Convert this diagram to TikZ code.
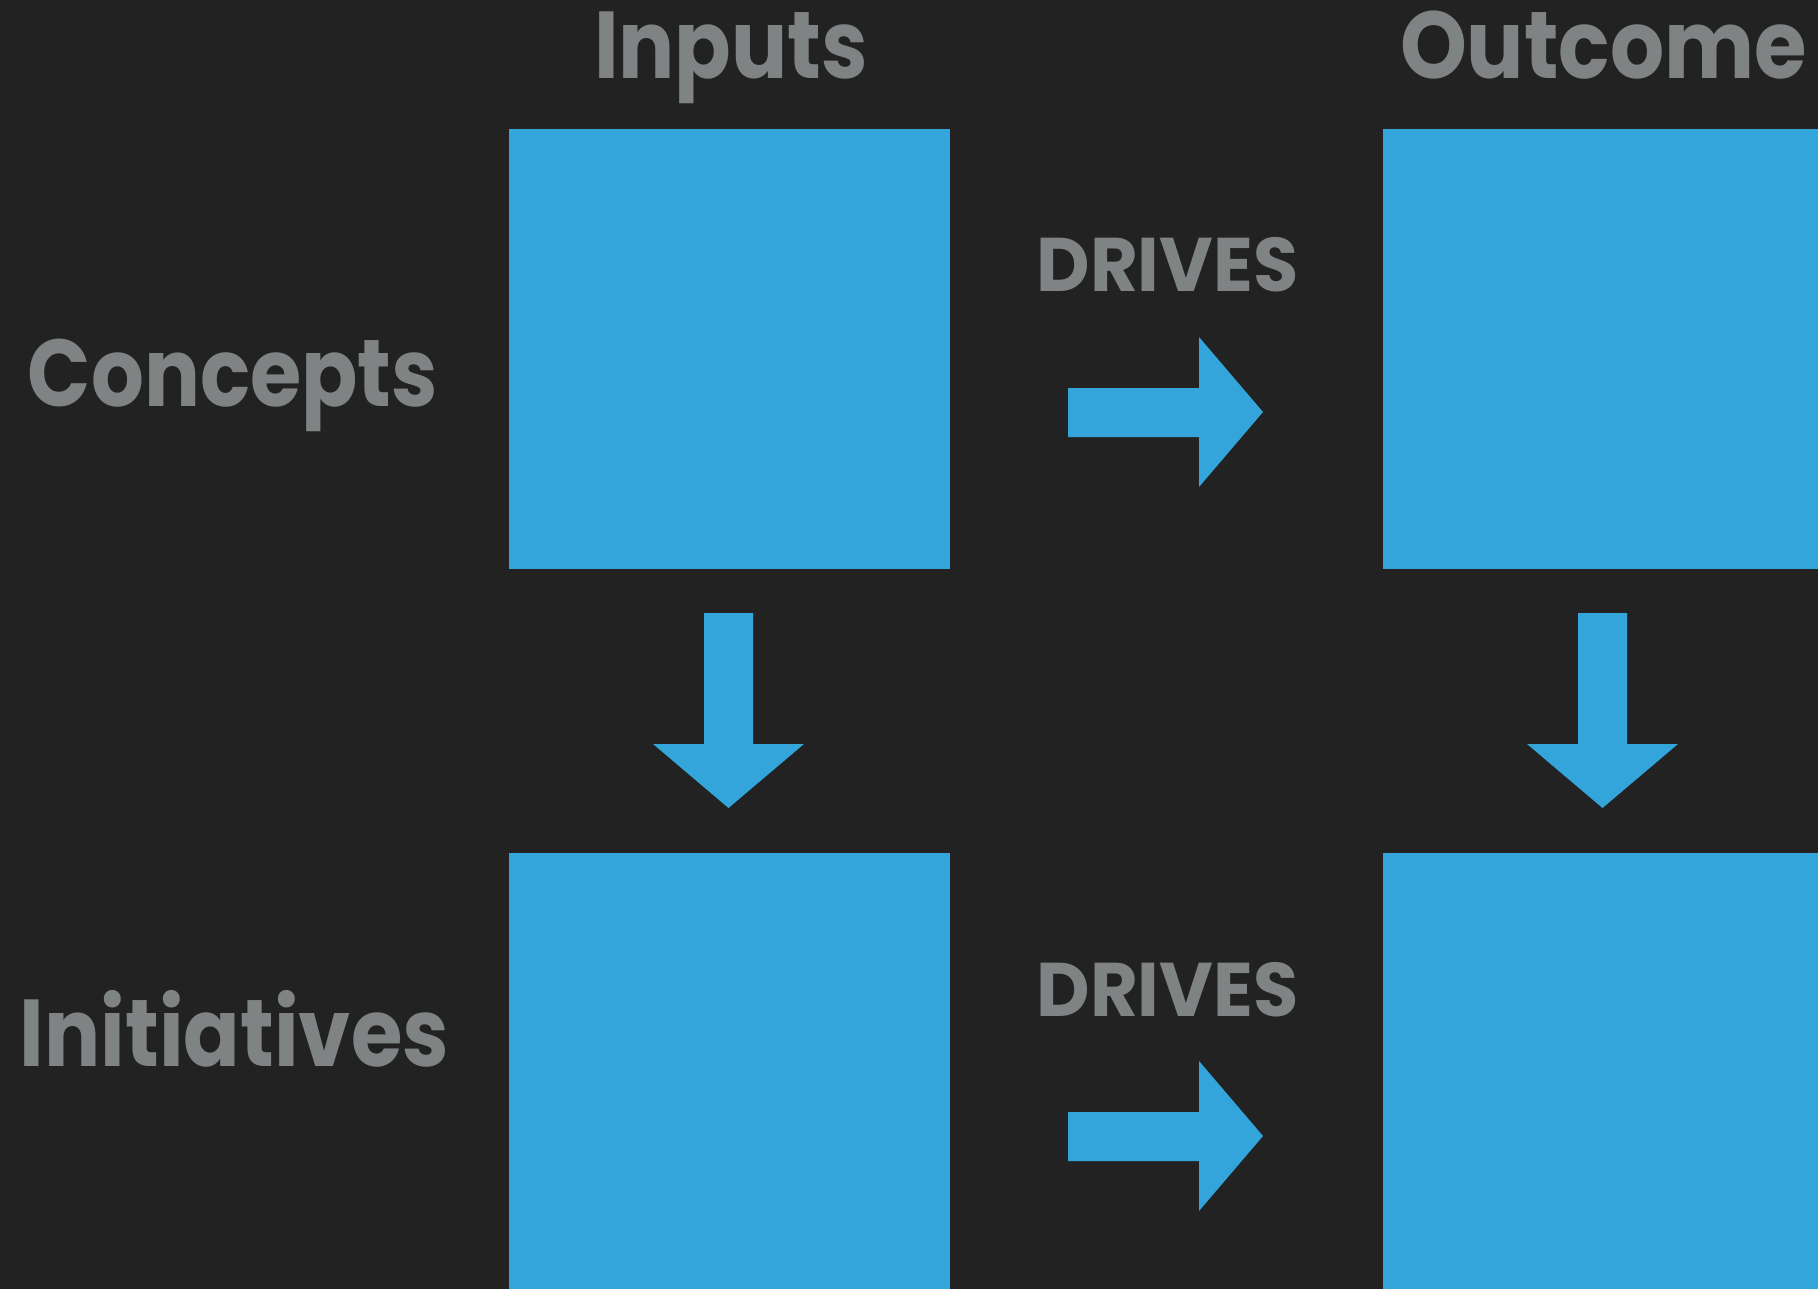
\documentclass[tikz,border=0pt]{standalone}
\usepackage{fontspec}
\usepackage{graphicx}
\setmainfont{Poppins}
\definecolor{bg}{HTML}{222222}
\definecolor{boxblue}{HTML}{34A5DB}
\definecolor{txtgray}{HTML}{7F8384}
\newcommand{\fitw}[2]{\resizebox{#1}{\height}{#2}}
\begin{document}
\begin{tikzpicture}[x=1pt,y=-1pt,
  cell/.style={fill=boxblue,draw=none,minimum width=441pt,minimum height=440pt,inner sep=0,anchor=north west},
  head/.style={text=txtgray,font=\fontsize{95}{100}\selectfont\bfseries,inner sep=0,anchor=base},
  drv/.style={text=txtgray,font=\fontsize{76}{80}\selectfont\bfseries,inner sep=0,anchor=base},
  blk/.style={fill=boxblue,draw=none}]
\useasboundingbox (0,0) rectangle (1818,1289);
\clip (0,0) rectangle (1818,1289);
\fill[bg] (0,0) rectangle (1818,1289);
\node[cell] (ci) at (509,129) {};
\node[cell] (co) at (1383,129) {};
\node[cell] (ii) at (509,853) {};
\node[cell] (io) at (1383,853) {};
\node[head] (tin) at (731,79) {\fitw{274pt}{Inputs}};
\node[head] (tout) at (1603.5,79) {\fitw{407pt}{Outcome}};
\node[head] (tcon) at (233,406) {\fitw{410pt}{Concepts}};
\node[head] (tini) at (234.5,1066) {\fitw{429pt}{Initiatives}};
\node[drv] (d1) at (1167.5,292) {\fitw{262pt}{DRIVES}};
\node[drv] (d2) at (1167.5,1016) {\fitw{262pt}{DRIVES}};
% right arrows
\foreach \dy in {0,724}{
  \fill[blk] (1068,388+\dy) -- (1199,388+\dy) -- (1199,337+\dy) -- (1263,412+\dy) -- (1199,487+\dy) -- (1199,437+\dy) -- (1068,437+\dy) -- cycle;
}
% down arrows
\foreach \dx in {0,874}{
  \fill[blk] (704+\dx,613) -- (753+\dx,613) -- (753+\dx,744) -- (804+\dx,744) -- (728.5+\dx,808) -- (653+\dx,744) -- (704+\dx,744) -- cycle;
}
\end{tikzpicture}
\end{document}
